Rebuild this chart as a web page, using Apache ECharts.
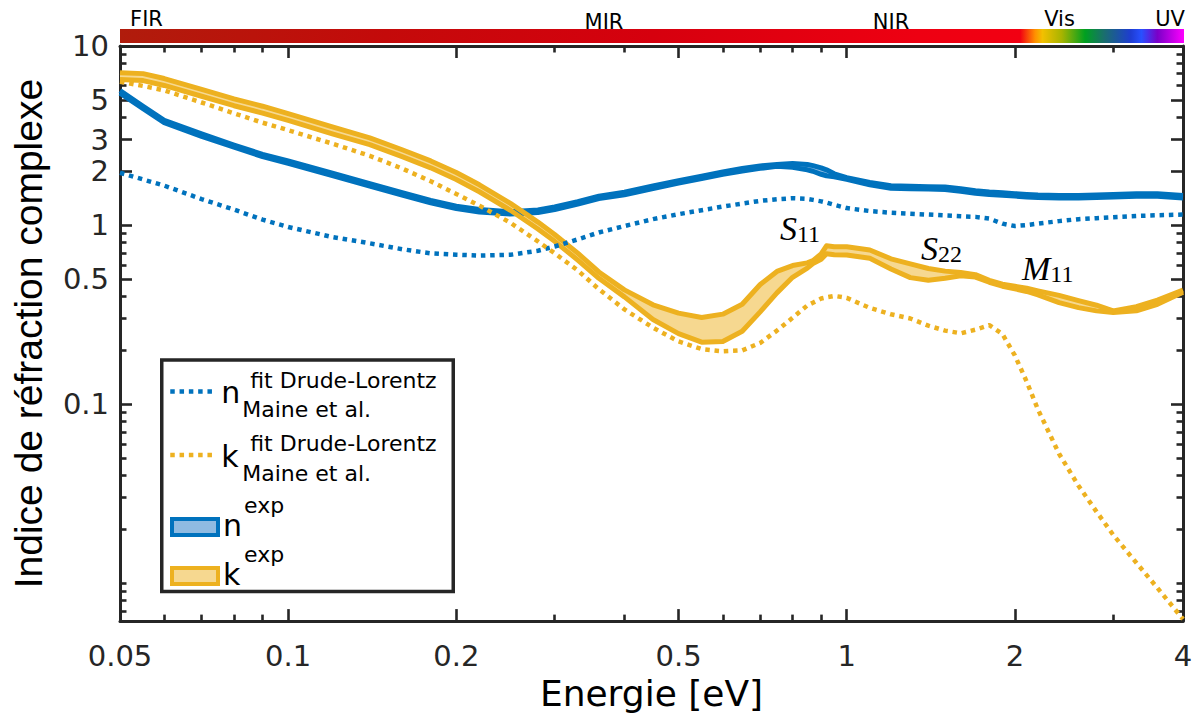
<!DOCTYPE html>
<html><head><meta charset="utf-8">
<script src="https://cdn.jsdelivr.net/npm/echarts@6/dist/echarts.min.js"></script>
<style>html,body{margin:0;padding:0;background:#fff}#c{width:1196px;height:716px}</style>
</head><body><div id="c"></div>
<script>
// ---------------- data ----------------
const energy = [0.05, 0.055, 0.06, 0.07, 0.08, 0.09, 0.1, 0.12, 0.14, 0.16, 0.18, 0.2, 0.22, 0.25, 0.28, 0.3, 0.33, 0.36, 0.4, 0.45, 0.5, 0.55, 0.6, 0.65, 0.7, 0.75, 0.8, 0.85, 0.87, 0.9, 0.92, 0.95, 1.0, 1.1, 1.2, 1.3, 1.4, 1.5, 1.6, 1.7, 1.8, 1.9, 2.0, 2.1, 2.2, 2.4, 2.6, 2.8, 3.0, 3.3, 3.6, 4.0];
const nFit = [1.959, 1.797, 1.661, 1.396, 1.220, 1.072, 0.976, 0.857, 0.791, 0.733, 0.695, 0.683, 0.675, 0.682, 0.719, 0.759, 0.832, 0.909, 0.987, 1.079, 1.150, 1.210, 1.268, 1.318, 1.365, 1.394, 1.412, 1.400, 1.382, 1.356, 1.334, 1.297, 1.244, 1.197, 1.172, 1.157, 1.144, 1.132, 1.121, 1.111, 1.086, 1.019, 0.987, 1.000, 1.019, 1.052, 1.079, 1.093, 1.107, 1.124, 1.135, 1.145];
const kFit = [6.32, 5.98, 5.65, 4.835, 4.21, 3.73, 3.39, 2.848, 2.436, 2.069, 1.757, 1.491, 1.284, 1.030, 0.810, 0.696, 0.558, 0.4384, 0.3380, 0.2673, 0.2238, 0.2030, 0.1971, 0.1996, 0.2196, 0.2573, 0.3034, 0.3556, 0.3685, 0.3886, 0.3952, 0.4022, 0.3921, 0.3445, 0.3176, 0.3007, 0.2742, 0.2573, 0.2486, 0.2606, 0.2760, 0.2461, 0.187, 0.1335, 0.0933, 0.0528, 0.0350, 0.0251, 0.0186, 0.0130, 0.0094, 0.0063];
const nExpLow = [5.45, 4.47, 3.73, 3.13, 2.72, 2.41, 2.21, 1.887, 1.650, 1.468, 1.331, 1.236, 1.183, 1.151, 1.175, 1.221, 1.309, 1.405, 1.476, 1.600, 1.714, 1.817, 1.918, 2.003, 2.073, 2.13, 2.10, 2.035, 1.997, 1.921, 1.886, 1.862, 1.80, 1.677, 1.604, 1.594, 1.588, 1.580, 1.544, 1.506, 1.480, 1.468, 1.451, 1.436, 1.425, 1.416, 1.416, 1.425, 1.435, 1.447, 1.447, 1.416];
const nExpHigh = [5.63, 4.61, 3.85, 3.23, 2.80, 2.48, 2.28, 1.948, 1.703, 1.515, 1.374, 1.276, 1.221, 1.188, 1.213, 1.261, 1.351, 1.450, 1.524, 1.652, 1.769, 1.876, 1.980, 2.068, 2.140, 2.18, 2.21, 2.18, 2.147, 2.087, 2.035, 1.934, 1.84, 1.731, 1.656, 1.646, 1.639, 1.631, 1.594, 1.554, 1.528, 1.515, 1.498, 1.482, 1.471, 1.462, 1.462, 1.471, 1.481, 1.494, 1.494, 1.462];
const kExpLow = [6.50, 6.41, 6.02, 5.24, 4.64, 4.22, 3.84, 3.23, 2.81, 2.409, 2.087, 1.797, 1.535, 1.210, 0.9505, 0.8113, 0.6374, 0.5040, 0.3972, 0.2970, 0.2477, 0.2218, 0.2238, 0.2550, 0.3274, 0.4182, 0.5105, 0.5744, 0.6096, 0.6439, 0.692, 0.6834, 0.6809, 0.6521, 0.5686, 0.5085, 0.4914, 0.5040, 0.5216, 0.5125, 0.4791, 0.4554, 0.4401, 0.4258, 0.4078, 0.3685, 0.3457, 0.3317, 0.3246, 0.3317, 0.3610, 0.4220];
const kExpHigh = [7.10, 7.01, 6.58, 5.72, 5.07, 4.61, 4.19, 3.53, 3.07, 2.633, 2.281, 1.964, 1.678, 1.322, 1.039, 0.8864, 0.6966, 0.5472, 0.4345, 0.3587, 0.3221, 0.3046, 0.3180, 0.3610, 0.4654, 0.5508, 0.5942, 0.6151, 0.6333, 0.6895, 0.766, 0.7563, 0.7563, 0.7255, 0.6480, 0.6073, 0.5723, 0.5530, 0.5439, 0.5283, 0.4914, 0.4671, 0.4554, 0.4440, 0.4291, 0.4047, 0.3780, 0.3566, 0.3317, 0.3503, 0.3814, 0.4329];

const xRange = [0.05, 4];
const yRange = [0.00614, 10];
const xTickLabels = [0.05, 0.1, 0.2, 0.5, 1, 2, 4];
const xMajorTicks = [0.1, 0.2, 0.5, 1, 2];
const xMinorTicks = [0.06, 0.07, 0.08, 0.09, 0.3, 0.4, 0.6, 0.7, 0.8, 0.9, 3];
const yTickLabels = [0.1, 0.5, 1, 2, 3, 5, 10];
const yMajorTicks = [0.1, 0.5, 1, 2, 3, 5, 10];
const yMinorTicks = [0.007, 0.008, 0.009, 0.01, 0.02, 0.03, 0.04, 0.05, 0.06, 0.07, 0.08, 0.09, 0.2, 0.3, 0.4, 0.6, 0.7, 0.8, 0.9, 4, 6, 7, 8, 9];
const bandLabels = ['FIR', 'MIR', 'NIR', 'Vis', 'UV'];
const peakLabels = [['S', '11'], ['S', '22'], ['M', '11']];

// ---------------- style ----------------
const BLUE = '#0072BD', ORANGE = '#EDB120';
const N_FILL = '#8FBBE2', K_FILL = '#F6D890';
const AX = '#262626';
const SANS = 'DejaVu Sans';
const DOT = [4.5, 4.8];
const G = {left: 120, top: 46, width: 1063, height: 583};

const chart = echarts.init(document.getElementById('c'), null, {renderer: 'svg', width: 1196, height: 716});

function pairs(ys) { return energy.map((e, i) => [e, ys[i]]); }
function fmt(v) { return String(parseFloat(Number(v).toPrecision(5))); }

function lineSeries(name, ys, color, width, dotted, z) {
  return {
    name, type: 'line', data: pairs(ys), symbol: 'none', showSymbol: false,
    xAxisIndex: 0, yAxisIndex: 0, z, silent: true, animation: false,
    lineStyle: {color, width, type: dotted ? DOT : 'solid', cap: 'butt', join: 'round'},
    itemStyle: {color}
  };
}
function bandSeries(name, low, high, fill, z) {
  return {
    name, type: 'custom', xAxisIndex: 0, yAxisIndex: 0, z, silent: true, animation: false,
    itemStyle: {color: fill},
    data: energy.map((e, i) => [e, low[i], high[i]]),
    encode: {x: 0, y: [1, 2]},
    renderItem(params, api) {
      if (params.dataIndex !== 0) return;
      const pts = [];
      for (let i = 0; i < energy.length; i++) pts.push(api.coord([energy[i], high[i]]));
      for (let i = energy.length - 1; i >= 0; i--) pts.push(api.coord([energy[i], low[i]]));
      return {type: 'polygon', shape: {points: pts}, style: {fill: fill, stroke: 'none'}};
    }
  };
}

function logAxis(pos, isX, showLine, tickVals, tickLen, labels, extra) {
  const range = isX ? xRange : yRange;
  return Object.assign({
    type: 'log', logBase: 10, position: pos, min: range[0], max: range[1],
    splitLine: {show: false}, minorTick: {show: false}, minorSplitLine: {show: false},
    axisPointer: {show: false}, silent: true,
    axisLine: {show: showLine, onZero: false, lineStyle: {color: AX, width: 3}},
    axisTick: {show: true, inside: true, length: tickLen, customValues: tickVals, lineStyle: {color: AX, width: 2.6}},
    axisLabel: labels ? {
      show: true, customValues: labels, formatter: fmt, margin: isX ? 20 : 11,
      fontFamily: SANS, fontSize: 29, color: AX
    } : {show: false}
  }, extra || {});
}

const xAxes = [
  logAxis('bottom', true, true, xMajorTicks, 12, xTickLabels, {
    name: 'Energie [eV]', nameLocation: 'middle', nameGap: 43,
    nameTextStyle: {fontFamily: SANS, fontSize: 36, color: '#000'}
  }),
  logAxis('bottom', true, false, xMinorTicks, 6.5, null),
  logAxis('top', true, true, xMajorTicks, 12, null),
  logAxis('top', true, false, xMinorTicks, 6.5, null)
];
const yAxes = [
  logAxis('left', false, true, yMajorTicks, 12, yTickLabels, {
    name: 'Indice de réfraction complexe', nameLocation: 'middle', nameGap: 72,
    nameTextStyle: {fontFamily: 'Liberation Sans', fontSize: 39, color: '#000'}
  }),
  logAxis('left', false, false, yMinorTicks, 6.5, null),
  logAxis('right', false, true, yMajorTicks, 12, null),
  logAxis('right', false, false, yMinorTicks, 6.5, null)
];

const series = [
  bandSeries('nexp', nExpLow, nExpHigh, N_FILL, 1),
  bandSeries('kexp', kExpLow, kExpHigh, K_FILL, 1),
  lineSeries('nexp_low', nExpLow, BLUE, 5, false, 2),
  lineSeries('nexp_high', nExpHigh, BLUE, 5, false, 2),
  lineSeries('kexp_low', kExpLow, ORANGE, 5, false, 3),
  lineSeries('kexp_high', kExpHigh, ORANGE, 5, false, 3),
  lineSeries('nfit', nFit, BLUE, 4.5, true, 4),
  lineSeries('kfit', kFit, ORANGE, 4.5, true, 4)
];

// ---------------- legend (rich text) ----------------
const richBase = {
  pad: {fontSize: 8, lineHeight: 11.6},
  g1: {width: 29, fontSize: 8, lineHeight: 12},
  sp: {fontFamily: SANS, fontSize: 22, lineHeight: 12, color: '#000'},
  m: {fontFamily: SANS, fontSize: 30, lineHeight: 12.8, color: '#000'},
  g2: {width: 21, fontSize: 8, lineHeight: 21.4},
  sb: {fontFamily: SANS, fontSize: 22, lineHeight: 21.4, color: '#000'},
  g3: {width: 21, fontSize: 8, lineHeight: 10},
  ep: {fontFamily: SANS, fontSize: 22, lineHeight: 10, color: '#000'},
  m2: {fontFamily: SANS, fontSize: 30, lineHeight: 31, color: '#000'},
  pad2: {fontSize: 8, lineHeight: 12.8}
};
const legendText = {
  nfit: '{pad| }\n{g1| }{sp|fit Drude-Lorentz}\n{m|n}\n{g2| }{sb|Maine et al.}',
  kfit: '{pad| }\n{g1| }{sp|fit Drude-Lorentz}\n{m|k}\n{g2| }{sb|Maine et al.}',
  nexp: '{g3| }{ep|exp}\n{m2|n}\n{pad2| }',
  kexp: '{g3| }{ep|exp}\n{m2|k}\n{pad2| }'
};
function mkLegend(left, top, w, h, dataItem) {
  return {
    show: true, selectedMode: false, orient: 'vertical', left, top, padding: 0,
    itemWidth: w, itemHeight: h, z: 6,
    data: [dataItem],
    formatter: n => legendText[n],
    textStyle: {fontFamily: SANS, color: '#000', rich: richBase}
  };
}
const legends = [
  mkLegend(168, 364.4, 46, 2, {name: 'nfit', itemStyle: {opacity: 0},
    lineStyle: {color: BLUE, width: 4.5, type: DOT, cap: 'butt', opacity: 1}}),
  mkLegend(168, 427.8, 46, 2, {name: 'kfit', itemStyle: {opacity: 0},
    lineStyle: {color: ORANGE, width: 4.5, type: DOT, cap: 'butt', opacity: 1}}),
  mkLegend(170, 494.1, 46, 16, {name: 'nexp', icon: 'rect', itemStyle: {color: N_FILL, borderColor: BLUE, borderWidth: 4}}),
  mkLegend(170, 543.1, 46, 16, {name: 'kexp', icon: 'rect', itemStyle: {color: K_FILL, borderColor: ORANGE, borderWidth: 4}})
];

// ---------------- decorations ----------------
const spectrumStops = [
  [0.000, '#B01C0C'], [0.25, '#C40A0A'], [0.5, '#D6000E'], [0.75, '#EE0012'], [0.846, '#F20012'],
  [0.860, '#FF9000'], [0.867, '#F2C000'], [0.885, '#A8B400'], [0.907, '#00A020'], [0.925, '#1A6E6E'],
  [0.950, '#1E3CD2'], [0.960, '#2850FF'], [0.975, '#7A00C8'], [1.0, '#FF00FF']
];
const bandLabelPos = [[146.5, 19.4], [604, 22], [891, 22], [1059.5, 18.7], [1170, 18.7]];
const peakPos = [[780, 228.5], [921, 248.5], [1022, 268.5]];

const graphics = [
  {type: 'rect', z: 1, silent: true,
   shape: {x: 120, y: 29, width: 1064, height: 14},
   style: {fill: {type: 'linear', x: 0, y: 0, x2: 1, y2: 0,
     colorStops: spectrumStops.map(s => ({offset: s[0], color: s[1]}))}}},
  {type: 'rect', z: 5, silent: true,
   shape: {x: 161.75, y: 360, width: 291.5, height: 231.5},
   style: {fill: '#fff', stroke: AX, lineWidth: 3.5}}
];
bandLabels.forEach((t, i) => graphics.push({
  type: 'text', z: 7, silent: true, x: bandLabelPos[i][0], y: bandLabelPos[i][1],
  style: {text: t, fontFamily: SANS, fontSize: 21, fill: '#000', align: 'center', verticalAlign: 'middle'}
}));
peakLabels.forEach((p, i) => graphics.push({
  type: 'text', z: 7, silent: true, x: peakPos[i][0], y: peakPos[i][1],
  style: {
    text: '{a|' + p[0] + '}{b|' + p[1] + '}', align: 'left', verticalAlign: 'middle',
    rich: {
      a: {fontFamily: 'Liberation Serif', fontStyle: 'italic', fontSize: 34, lineHeight: 34, fill: '#000', color: '#000'},
      b: {fontFamily: 'Liberation Serif', fontSize: 24, lineHeight: 11.2, verticalAlign: 'bottom', fill: '#000', color: '#000'}
    }
  }
}));

chart.setOption({
  animation: false,
  backgroundColor: '#fff',
  grid: G,
  xAxis: xAxes,
  yAxis: yAxes,
  legend: legends,
  series: series,
  graphic: graphics
});
</script>
</body></html>
